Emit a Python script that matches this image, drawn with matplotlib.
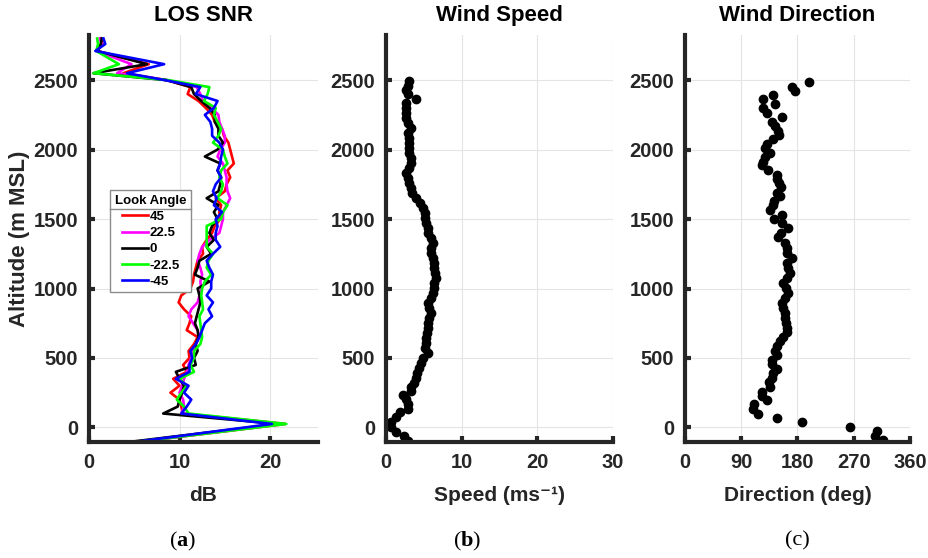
import matplotlib
matplotlib.use("Agg")
import matplotlib.pyplot as plt
from matplotlib.lines import Line2D

plt.rcParams["font.family"] = ["Liberation Sans", "DejaVu Sans"]
plt.rcParams["mathtext.fontset"] = "custom"
plt.rcParams["mathtext.rm"] = "Liberation Serif"
plt.rcParams["mathtext.bf"] = "Liberation Serif:bold"

# ---------------------------------------------------------------
# LOS SNR profiles (dB) per look angle
# ---------------------------------------------------------------
snr_alt = [-105, 25, 100, 150, 200, 250, 300, 350, 400, 450, 500,
           550, 600, 650, 700, 750, 800, 850, 900, 950, 1000,
           1050, 1100, 1150, 1200, 1250, 1300, 1350, 1400, 1450, 1500,
           1550, 1600, 1650, 1700, 1750, 1800, 1850, 1900, 1950, 2000,
           2050, 2100, 2150, 2200, 2250, 2300, 2350, 2400, 2450, 2500,
           2550, 2615, 2710, 2760, 2800]

snr_45 = [5.3, 21.7, 10.4, 10.2, 10.0, 9.0, 10.0, 9.3, 10.8, 10.4, 11.1,
          11.0, 11.6, 12.0, 10.8, 11.1, 11.3, 10.5, 9.9, 10.2, 11.2,
          11.5, 11.6, 11.8, 12.0, 12.6, 12.5, 13.0, 13.6, 13.9, 14.5,
          14.4, 14.6, 14.0, 15.0, 15.2, 15.6, 15.3, 16.0, 15.8, 15.6,
          15.4, 14.9, 14.7, 13.9, 13.6, 12.9, 12.1, 10.9, 11.2, 8.6,
          3.8, 6.6, 0.9, 1.5, 1.3]

snr_22 = [5.2, 21.4, 10.2, 10.5, 10.4, 10.0, 10.3, 10.5, 10.8, 11.0, 11.3,
          11.5, 11.8, 12.2, 12.0, 11.5, 11.0, 11.3, 12.0, 12.2, 12.4,
          12.3, 12.5, 12.3, 12.0, 12.2, 12.5, 13.3, 14.4, 14.6, 14.8,
          14.8, 15.2, 15.6, 15.3, 15.2, 15.2, 15.0, 14.8, 14.2, 14.5,
          15.0, 15.0, 14.7, 14.4, 14.3, 13.5, 12.6, 12.3, 11.9, 8.6,
          3.1, 4.7, 0.8, 1.4, 1.2]

snr_0 = [4.4, 20.9, 8.2, 9.8, 10.0, 10.3, 10.5, 10.0, 9.6, 11.8, 11.6,
         12.0, 11.8, 12.1, 12.0, 11.7, 11.9, 12.1, 12.3, 12.2, 12.0,
         13.3, 11.7, 12.0, 12.2, 13.5, 13.0, 13.8, 13.3, 13.6, 14.2,
         13.8, 14.3, 13.0, 14.3, 14.5, 14.6, 14.2, 14.5, 12.8, 14.2,
         14.8, 14.3, 14.3, 13.9, 13.9, 13.3, 12.4, 11.6, 11.3, 8.6,
         0.5, 6.4, 0.9, 1.3, 1.4]

snr_m22 = [5.2, 21.8, 11.0, 10.5, 9.7, 10.2, 10.8, 10.0, 11.6, 11.2, 11.6,
           11.6, 12.3, 12.5, 12.4, 12.3, 12.2, 12.6, 12.5, 12.4, 12.5,
           12.8, 13.5, 13.0, 13.2, 13.7, 13.0, 13.0, 13.0, 13.0, 14.6,
           14.8, 15.3, 14.2, 14.6, 14.8, 14.4, 14.6, 15.3, 15.0, 14.8,
           13.7, 14.3, 14.6, 14.2, 13.8, 14.0, 12.7, 13.1, 13.3, 8.8,
           0.5, 3.3, 0.8, 1.0, 0.9]

snr_m45 = [5.0, 20.2, 10.2, 10.8, 11.3, 10.5, 11.0, 9.6, 11.1, 11.1, 11.4,
           11.2, 11.8, 12.2, 12.5, 12.8, 13.6, 13.2, 13.7, 13.0, 13.5,
           13.5, 13.7, 13.3, 13.0, 13.7, 14.5, 14.0, 14.0, 14.2, 14.0,
           14.7, 13.8, 14.1, 13.7, 14.0, 14.6, 14.2, 14.5, 14.6, 14.8,
           14.4, 13.6, 13.6, 13.4, 12.8, 13.8, 14.2, 11.8, 12.3, 8.4,
           4.2, 8.3, 0.7, 1.8, 1.6]

look_angles = ["45", "22.5", "0", "-22.5", "-45"]
snr_series = [snr_45, snr_22, snr_0, snr_m22, snr_m45]
snr_colors = ["#ff0000", "#ff00ff", "#000000", "#00ff00", "#0000ff"]

# ---------------------------------------------------------------
# Wind speed (m/s)
# ---------------------------------------------------------------
ws_alt = [-96, -60, -31, 0, 36, 72, 108, 136, 167, 203, 232, 263, 294,
          323, 359, 395, 431, 467, 502, 538, 574, 610, 646, 682, 718,
          754, 789, 825, 861, 897, 933, 969, 1005, 1041, 1077, 1112,
          1148, 1184, 1220, 1256, 1292, 1328, 1364, 1400, 1435, 1471,
          1507, 1543, 1579, 1615, 1651, 1687, 1722, 1758, 1794, 1830,
          1866, 1902, 1938, 1974, 2010, 2045, 2081, 2117, 2153, 2189,
          2225, 2261, 2297, 2333, 2361, 2397, 2428, 2457, 2493]
ws_val = [2.9, 2.4, 1.3, 0.7, 0.7, 1.3, 1.8, 2.9, 2.9, 2.6, 2.3, 3.3, 3.3,
          3.7, 4.0, 4.1, 4.4, 4.6, 4.9, 5.5, 5.1, 5.3, 5.3, 5.4, 5.5,
          5.5, 5.7, 6.0, 5.7, 5.6, 6.0, 6.2, 6.4, 6.4, 6.6, 6.5,
          6.4, 6.3, 6.2, 6.0, 6.0, 6.2, 6.0, 5.5, 5.5, 5.3,
          5.2, 5.1, 4.9, 4.5, 3.9, 3.5, 3.3, 3.1, 2.9, 2.7,
          3.1, 3.3, 3.3, 3.1, 3.1, 3.0, 3.1, 2.9, 3.3, 2.9,
          2.6, 2.6, 2.6, 2.6, 3.9, 2.9, 2.6, 2.9, 3.1]

# ---------------------------------------------------------------
# Wind direction (deg)
# ---------------------------------------------------------------
wd_alt = [-89, -60, -29, 5, 36, 67, 100, 132, 167, 199, 227, 258, 294,
          328, 359, 395, 423, 455, 486, 519, 550, 586, 622, 653, 687,
          718, 754, 789, 825, 861, 897, 933, 969, 1005, 1041, 1077,
          1112, 1148, 1184, 1220, 1256, 1292, 1328, 1371, 1400, 1435,
          1471, 1500, 1531, 1567, 1603, 1627, 1663, 1691, 1730, 1758,
          1787, 1818, 1854, 1890, 1914, 1945, 1978, 2010, 2041, 2074,
          2105, 2136, 2170, 2201, 2237, 2266, 2297, 2325, 2361, 2392,
          2423, 2452, 2488]
wd_val = [317, 304, 307, 264, 188, 147, 117, 109, 110, 131, 123, 123, 136,
          135, 139, 141, 147, 139, 139, 147, 144, 147, 152, 157, 163,
          163, 162, 160, 160, 157, 155, 160, 165, 162, 157, 163,
          168, 165, 163, 171, 163, 164, 160, 149, 153, 165,
          155, 142, 155, 136, 141, 142, 152, 148, 153, 151,
          147, 148, 133, 123, 125, 128, 136, 128, 131, 141,
          151, 149, 144, 139, 156, 131, 125, 144, 125, 141,
          176, 171, 199]

###########################################################
# Figure
###########################################################

W, H = 929, 558
fig = plt.figure(figsize=(W / 100, H / 100), dpi=100)

axis_col = "#262626"
ylim = (-105, 2825)
yticks = [0, 500, 1000, 1500, 2000, 2500]


def px_axes(x0, x1, y0, y1):
    return fig.add_axes([x0 / W, 1 - y1 / H, (x1 - x0) / W, (y1 - y0) / H])


def style(ax, title, xlabel):
    for s in ["top", "right"]:
        ax.spines[s].set_visible(False)
    for s in ["left", "bottom"]:
        ax.spines[s].set_linewidth(3.0)
        ax.spines[s].set_color(axis_col)
    ax.tick_params(direction="in", length=4, width=3, color=axis_col,
                   labelsize=14.5, labelcolor=axis_col, pad=8)
    for lab in ax.get_xticklabels() + ax.get_yticklabels():
        lab.set_fontweight("bold")
    ax.grid(True, color="#e4e4e4", linewidth=0.8)
    ax.set_axisbelow(True)
    ax.set_ylim(*ylim)
    ax.set_yticks(yticks)
    ax.set_title(title, fontsize=16, fontweight="bold", pad=10)
    ax.set_xlabel(xlabel, fontsize=15, fontweight="bold", color=axis_col,
                  labelpad=10)


# (a) LOS SNR
ax1 = px_axes(89, 318, 35, 442)
for vals, col, lab in zip(snr_series, snr_colors, look_angles):
    ax1.plot(vals, snr_alt, color=col, linewidth=1.9, label=lab)
ax1.set_xlim(0, 25.3)
ax1.set_xticks([0, 10, 20])
style(ax1, "LOS SNR", "dB")
ax1.set_ylabel("Altitude (m MSL)", fontsize=16, fontweight="bold",
               color=axis_col, labelpad=2)

leg = ax1.legend(title="Look Angle", loc="upper left",
                 bbox_to_anchor=(0.065, 0.635), fontsize=9.5,
                 title_fontsize=9.5, frameon=True, fancybox=False,
                 edgecolor="#8c8c8c", framealpha=1, handlelength=2.0,
                 handletextpad=0.1, labelspacing=0.3, borderpad=0.35)
leg.get_title().set_fontweight("bold")
for t in leg.get_texts():
    t.set_fontweight("bold")
leg.get_frame().set_linewidth(1.0)

# (b) Wind speed
ax2 = px_axes(386, 613, 35, 442)
ax2.plot(ws_val, ws_alt, "o", color="black", markersize=6)
ax2.set_xlim(0, 30)
ax2.set_xticks([0, 10, 20, 30])
style(ax2, "Wind Speed", "Speed (ms\u207b\u00b9)")

# (c) Wind direction
ax3 = px_axes(685, 910, 35, 442)
ax3.plot(wd_val, wd_alt, "o", color="black", markersize=6)
ax3.set_xlim(0, 360)
ax3.set_xticks([0, 90, 180, 270, 360])
style(ax3, "Wind Direction", "Direction (deg)")

# panel letters
fig.text(183 / W, 1 - 541 / H, r"($\mathbf{a}$)", fontsize=16,
         family="Liberation Serif", ha="center", va="center")
fig.text(467 / W, 1 - 541 / H, r"($\mathbf{b}$)", fontsize=16,
         family="Liberation Serif", ha="center", va="center")
fig.text(797 / W, 1 - 541 / H, "(c)", fontsize=16,
         family="Liberation Serif", ha="center", va="center")

# separator line under the legend title
fig.canvas.draw()
r = fig.canvas.get_renderer()
fb = leg.get_frame().get_window_extent(r)
tb = leg.get_title().get_window_extent(r)
ysep = tb.y0 - 2
fig.add_artist(Line2D([fb.x0 / W, fb.x1 / W], [ysep / H, ysep / H],
                      color="#8c8c8c", linewidth=1.0))

fig.savefig("out.png", dpi=100)
